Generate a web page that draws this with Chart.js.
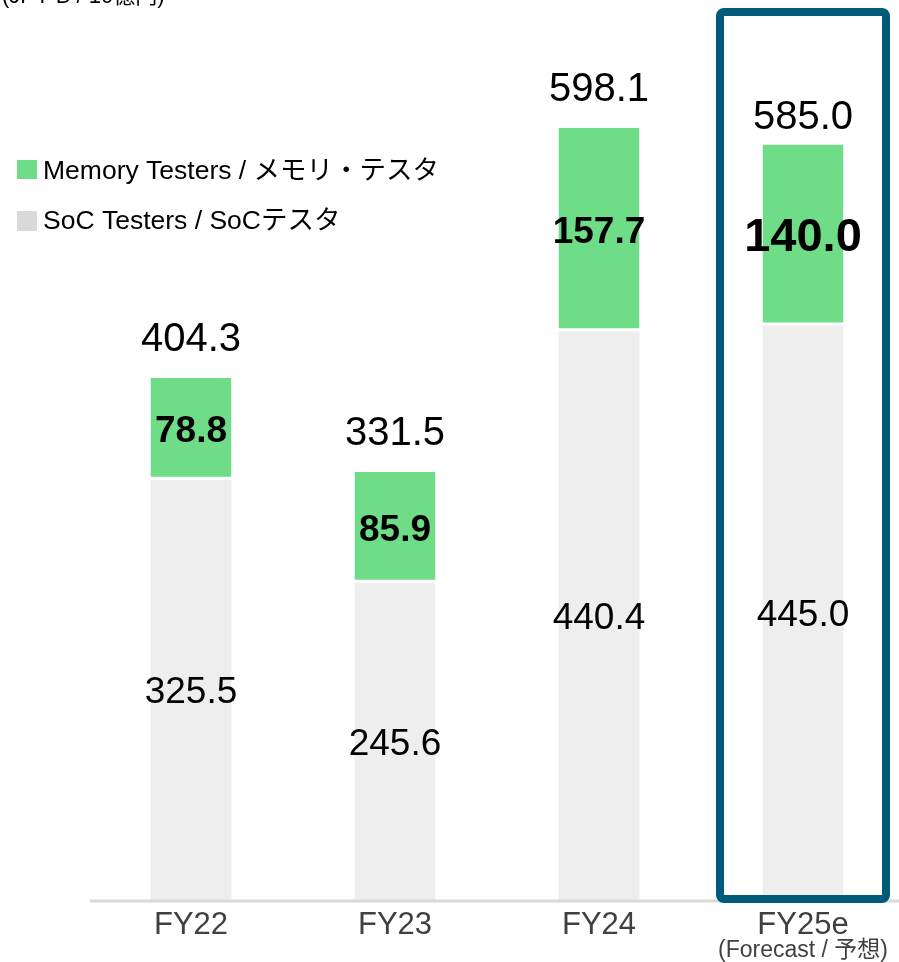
<!DOCTYPE html>
<html lang="en">
<head>
    <meta charset="UTF-8">
    <title>Tester sales by segment</title>
    <script src="https://cdn.jsdelivr.net/npm/chart.js"></script>
    <style>
        html, body { margin: 0; padding: 0; background: #fff; overflow: hidden; }
        #wrap { width: 906px; height: 962px; }
    </style>
</head>
<body>
    <div id="wrap"><canvas id="salesChart" width="906" height="962"></canvas></div>

    <script>
        // chart values
        const categories = ['FY22', 'FY23', 'FY24', 'FY25e'];
        const socValues = [325.5, 245.6, 440.4, 445.0];
        const memoryValues = [78.8, 85.9, 157.7, 140.0];
        const totals = [404.3, 331.5, 598.1, 585.0];
        const seriesNames = ['Memory Testers / メモリ・テスタ', 'SoC Testers / SoCテスタ'];
        const unitLabel = '(JPY B / 10億円)';
        const forecastNote = '(Forecast / 予想)';

        const FONT = '"Liberation Sans", Arial, "Noto Sans CJK JP", sans-serif';
        const GREEN = '#6fdc87';
        const GREY = '#eeeeee';
        const HIGHLIGHT = 3; // forecast column

        // labels, legend, axis line and highlight box
        const decorations = {
            id: 'decorations',
            afterDatasetsDraw(chart) {
                const ctx = chart.ctx;
                const x = chart.scales.x;
                const area = chart.chartArea;
                const soc = chart.getDatasetMeta(0).data;
                const mem = chart.getDatasetMeta(1).data;
                ctx.save();

                // axis line
                ctx.strokeStyle = '#d9d9d9';
                ctx.lineWidth = 3;
                ctx.beginPath();
                ctx.moveTo(area.left + 1, area.bottom + 1);
                ctx.lineTo(899, area.bottom + 1);
                ctx.stroke();

                ctx.textAlign = 'center';
                ctx.textBaseline = 'middle';
                ctx.fillStyle = '#000';

                soc.forEach((bar, i) => {
                    ctx.font = '37px ' + FONT;
                    ctx.fillText(socValues[i].toFixed(1), bar.x, (bar.y + bar.base) / 2 + 3);
                });
                mem.forEach((bar, i) => {
                    ctx.font = (i === HIGHLIGHT ? 'bold 47px ' : 'bold 37px ') + FONT;
                    ctx.fillText(memoryValues[i].toFixed(1), bar.x, (bar.y + bar.base) / 2 + 3);
                    ctx.font = '40px ' + FONT;
                    ctx.fillText(totals[i].toFixed(1), bar.x, bar.y - (i === HIGHLIGHT ? 27 : 38));
                });

                // category labels
                ctx.fillStyle = '#404040';
                categories.forEach((c, i) => {
                    const cx = x.getPixelForValue(i);
                    ctx.font = '31px ' + FONT;
                    ctx.fillText(c, cx, 925);
                    if (i === HIGHLIGHT) {
                        ctx.font = '23px ' + FONT;
                        ctx.fillText(forecastNote, cx, 951);
                    }
                });

                // highlight box
                const hx = x.getPixelForValue(HIGHLIGHT);
                ctx.strokeStyle = '#005a7a';
                ctx.lineWidth = 8;
                ctx.lineJoin = 'round';
                ctx.beginPath();
                ctx.roundRect(hx - 83, 12, 166, area.bottom - 13, 4);
                ctx.stroke();

                // legend
                ctx.textAlign = 'left';
                ctx.fillStyle = GREEN;
                ctx.fillRect(17, 160, 20, 19);
                ctx.fillStyle = '#d9d9d9';
                ctx.fillRect(17, 211, 20, 20);
                ctx.fillStyle = '#000';
                ctx.font = '26.5px ' + FONT;
                ctx.fillText(seriesNames[0], 43, 172);
                ctx.fillText(seriesNames[1], 43, 222);

                // unit label, cut by the top edge
                ctx.textBaseline = 'alphabetic';
                ctx.font = '22px ' + FONT;
                ctx.fillText(unitLabel, 2, 3);

                ctx.restore();
            }
        };

        new Chart(document.getElementById('salesChart'), {
            type: 'bar',
            data: {
                labels: categories,
                datasets: [{
                    label: seriesNames[1],
                    data: socValues,
                    backgroundColor: GREY,
                    borderWidth: 0
                }, {
                    label: seriesNames[0],
                    data: memoryValues,
                    backgroundColor: GREEN,
                    borderColor: '#ffffff',
                    borderWidth: { top: 0, left: 0, right: 0, bottom: 3 },
                    borderSkipped: false
                }]
            },
            options: {
                responsive: false,
                animation: false,
                events: [],
                layout: { padding: { left: 89, right: 1, top: 0, bottom: 62 } },
                datasets: { bar: { categoryPercentage: 1, barPercentage: 0.397 } },
                plugins: { legend: { display: false }, tooltip: { enabled: false } },
                scales: {
                    x: { stacked: true, display: false },
                    y: { stacked: true, display: false, min: 0, max: 697 }
                }
            },
            plugins: [decorations]
        });
    </script>
</body>
</html>
